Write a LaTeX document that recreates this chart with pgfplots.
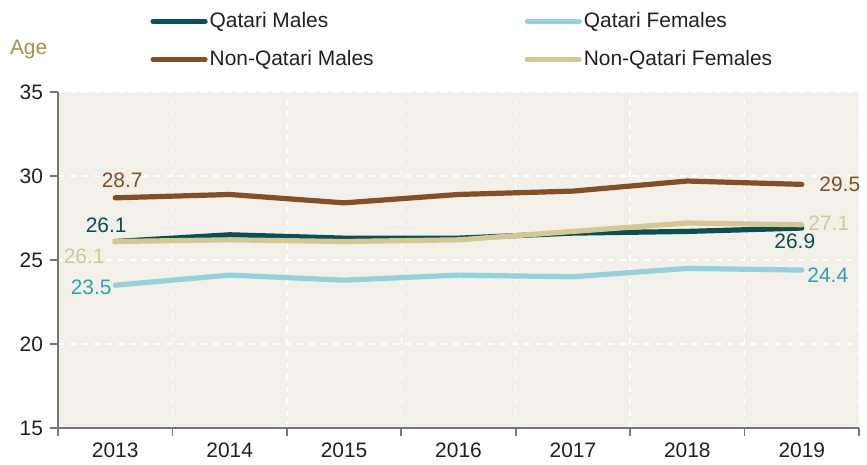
\documentclass[border=0pt]{standalone}
\usepackage{pgfplots}
\pgfplotsset{compat=1.18}
\usepackage{fontspec}
\setmainfont{Liberation Sans}
\definecolor{qm}{HTML}{0B4F55}
\definecolor{qf}{HTML}{96D0DB}
\definecolor{nqm}{HTML}{834F27}
\definecolor{nqf}{HTML}{D3C894}
\definecolor{agec}{HTML}{A6904F}
\definecolor{cyanlab}{HTML}{2BA3B5}
\definecolor{bgc}{HTML}{F3F0E9}
\definecolor{axgray}{HTML}{75787B}
\definecolor{txt}{HTML}{231F20}
\begin{document}
\begin{tikzpicture}[font=\fontsize{10.5}{12}\selectfont]
\begin{axis}[
  width=400.5bp, height=168bp, scale only axis,
  xmin=-0.5, xmax=6.5, ymin=15, ymax=35,
  axis x line*=bottom, axis y line*=left,
  axis line style={draw=axgray, line width=1bp, -},
  axis background/.style={fill=bgc},
  xtick={0,...,6}, xticklabels={2013,2014,2015,2016,2017,2018,2019},
  major x tick style={draw=none},
  minor xtick={-0.5,0.5,1.5,2.5,3.5,4.5,5.5,6.5},
  xminorgrids, ymajorgrids,
  minor grid style={white, dashed, line width=0.7bp},
  major grid style={white, dashed, line width=0.7bp},
  ytick={15,20,25,30,35},
  tick align=outside,
  tick style={axgray, line width=0.8bp},
  major tick length=4bp, minor tick length=4bp,
  tick label style={font=\fontsize{10.5}{12}\selectfont, text=txt},
  /pgf/number format/assume math mode=true,
  legend columns=2,
  legend cell align=left,
  legend style={at={(rel axis cs:0.115,1)}, anchor=south west, yshift=10.5bp,
    draw=none, fill=none, inner sep=0pt, row sep=8bp,
    nodes={inner sep=1bp, text=txt, font=\fontsize{10.5}{12}\selectfont},
    /tikz/every even column/.append style={column sep=74.5bp}},
  legend image code/.code={\draw[#1, line cap=round] (0bp,0bp) -- (26bp,0bp);},
  every axis plot/.append style={line width=2.6bp, line cap=round, line join=round},
  clip=false,
]
\addplot[qm] coordinates {(0,26.1) (1,26.5) (2,26.3) (3,26.3) (4,26.6) (5,26.7) (6,26.9)};
\addlegendentry{Qatari Males}
\addplot[qf] coordinates {(0,23.5) (1,24.1) (2,23.8) (3,24.1) (4,24.0) (5,24.5) (6,24.4)};
\addlegendentry{Qatari Females}
\addplot[nqm] coordinates {(0,28.7) (1,28.9) (2,28.4) (3,28.9) (4,29.1) (5,29.7) (6,29.5)};
\addlegendentry{Non-Qatari Males}
\addplot[nqf] coordinates {(0,26.1) (1,26.2) (2,26.1) (3,26.2) (4,26.7) (5,27.2) (6,27.1)};
\addlegendentry{Non-Qatari Females}

\node[text=nqm, shift={(3.5bp,9bp)}] at (axis cs:0,28.7) {28.7};
\node[text=qm, shift={(-4.5bp,8.2bp)}] at (axis cs:0,26.1) {26.1};
\node[text=nqf, shift={(-15.5bp,-7.2bp)}] at (axis cs:0,26.1) {26.1};
\node[text=cyanlab, shift={(-12bp,-1bp)}] at (axis cs:0,23.5) {23.5};
\node[text=nqm, shift={(19bp,0bp)}] at (axis cs:6,29.5) {29.5};
\node[text=nqf, shift={(13.5bp,1bp)}] at (axis cs:6,27.1) {27.1};
\node[text=qm, shift={(-3.5bp,-6.7bp)}] at (axis cs:6,26.9) {26.9};
\node[text=cyanlab, shift={(13bp,-2.5bp)}] at (axis cs:6,24.4) {24.4};

\node[text=agec, anchor=base west] at ([shift={(-27.5bp,18.5bp)}]rel axis cs:0,1) {Age};

\coordinate (bl) at (rel axis cs:0,0);
\coordinate (tr) at (rel axis cs:1,1);
\end{axis}
\path ([shift={(-29bp,-17.5bp)}]bl) rectangle ([shift={(4bp,46bp)}]tr);
\end{tikzpicture}
\end{document}
